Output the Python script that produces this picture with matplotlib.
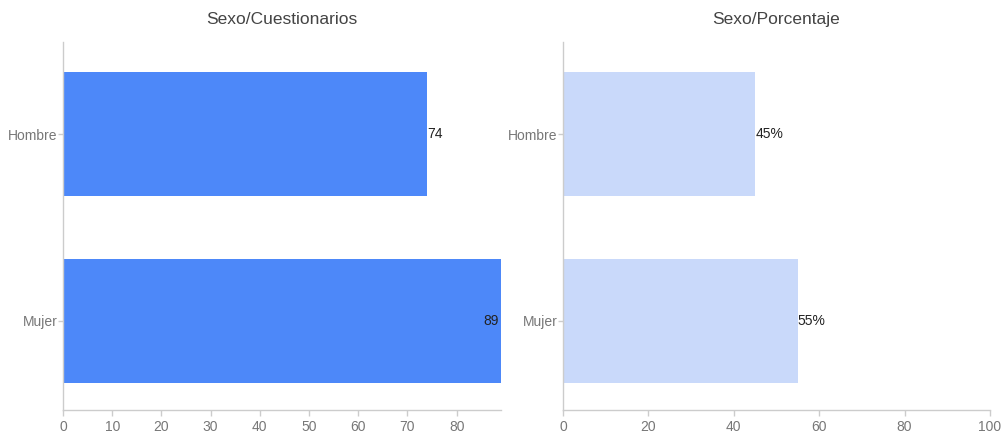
import matplotlib
matplotlib.use("Agg")
import matplotlib.pyplot as plt

plt.rcParams['font.family'] = ['Liberation Sans', 'DejaVu Sans']

categories = ["Hombre", "Mujer"]
counts = [74, 89]
percents = [45, 55]
count_ticks = [0, 10, 20, 30, 40, 50, 60, 70, 80]
pct_ticks = [0, 20, 40, 60, 80, 100]

W, H = 1004, 432
fig = plt.figure(figsize=(W / 100, H / 100), dpi=100)

def fx(px):
    return px / W

def fy(px):
    return 1 - px / H

ax1 = fig.add_axes([fx(63), fy(410), fx(501 - 63), (410 - 42) / H])
ax2 = fig.add_axes([fx(563), fy(410), fx(990 - 563), (410 - 42) / H])

axis_col = "#cccccc"
tick_col = "#777777"

def style(ax, title, xlim, xticks):
    ax.set_xlim(*xlim)
    ax.set_ylim(1.476, -0.492)
    ax.set_xticks(xticks)
    ax.set_yticks(range(len(categories)))
    ax.set_yticklabels(categories)
    for s in ["top", "right"]:
        ax.spines[s].set_visible(False)
    for s in ["left", "bottom"]:
        ax.spines[s].set_color(axis_col)
        ax.spines[s].set_linewidth(1)
    ax.tick_params(axis="both", colors=axis_col, labelcolor=tick_col,
                   labelsize=10, width=1)
    ax.tick_params(axis="y", pad=0.3, length=3.5)
    ax.tick_params(axis="x", pad=3, length=4)
    ax.set_title(title, fontsize=12.5, color="#444444", pad=13)

y = list(range(len(categories)))
ax1.barh(y, counts, height=0.663, color="#4d88f9")
ax2.barh(y, percents, height=0.663, color="#c9d9fa")

style(ax1, "Sexo/Cuestionarios", (0, max(counts)), count_ticks)
style(ax2, "Sexo/Porcentaje", (0, 100), pct_ticks)

for i, v in enumerate(counts):
    if v >= max(counts):
        ax1.text(v - 0.4, i, str(v), ha="right", va="center",
                 fontsize=10, color="#222222")
    else:
        ax1.text(v, i, str(v), ha="left", va="center",
                 fontsize=10, color="#222222")
for i, v in enumerate(percents):
    ax2.text(v, i, f"{v}%", ha="left", va="center",
             fontsize=10, color="#222222")

fig.savefig("out.png", dpi=100)
